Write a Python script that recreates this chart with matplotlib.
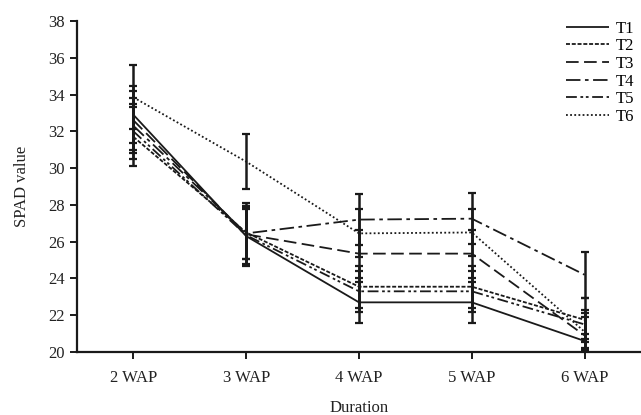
import matplotlib
matplotlib.use("Agg")
import matplotlib.pyplot as plt
from matplotlib.lines import Line2D
import numpy as np

plt.rcParams['font.family'] = ['Liberation Serif', 'DejaVu Serif']

categories = ["2 WAP", "3 WAP", "4 WAP", "5 WAP", "6 WAP"]
series_names = ["T1", "T2", "T3", "T4", "T5", "T6"]

T1 = [32.9, 26.3, 22.7, 22.7, 20.6]
T2 = [31.7, 26.5, 23.55, 23.55, 21.75]
T3 = [32.6, 26.4, 25.35, 25.35, 20.9]
T4 = [32.3, 26.45, 27.2, 27.25, 24.2]
T5 = [32.0, 26.35, 23.3, 23.3, 21.5]
T6 = [33.85, 30.35, 26.45, 26.5, 21.1]

T1_err = [1.55, 1.5, 1.1, 1.1, 0.4]
T2_err = [1.6, 1.45, 1.15, 1.15, 1.2]
T3_err = [1.6, 1.7, 1.3, 1.3, 1.0]
T4_err = [1.5, 1.4, 1.4, 1.4, 1.25]
T5_err = [1.5, 1.6, 1.1, 1.1, 0.8]
T6_err = [1.75, 1.5, 1.3, 1.3, 1.0]

values = [T1, T2, T3, T4, T5, T6]
errors = [T1_err, T2_err, T3_err, T4_err, T5_err, T6_err]
dash_styles = [
    (0, ()),
    (0, (2.2, 1.0)),
    (0, (7, 3)),
    (0, (8, 2.5, 2, 2.5)),
    (0, (6, 2, 1.5, 1.5, 1.5, 2)),
    (0, (1, 1.3)),
]

fig = plt.figure(figsize=(6.41, 4.15), dpi=100)
ax = fig.add_axes([77/641, 1-352/415, 1-77/641, (352-21)/415])

x = np.arange(len(categories))
col = '#1a1a1a'
for name, v, e, ls in zip(series_names, values, errors, dash_styles):
    ax.errorbar(x, v, yerr=e, color=col, linestyle=ls, linewidth=1.3,
                elinewidth=1.8, capsize=3.0, capthick=1.6, label=name)

ax.set_xlim(-0.5, 4.5)
ax.set_ylim(20, 38)
ax.set_yticks(np.arange(20, 39, 2))
ax.set_xticks(x)
ax.set_xticklabels(categories)
for s in ['top', 'right']:
    ax.spines[s].set_visible(False)
for s in ['left', 'bottom']:
    ax.spines[s].set_linewidth(1.6)
    ax.spines[s].set_color(col)
ax.tick_params(axis='both', direction='out', length=5, width=1.4, colors=col,
               labelsize=12, labelcolor='#222222')
ax.tick_params(axis='x', pad=8)
ax.tick_params(axis='y', pad=4)
ax.set_xlabel("Duration", fontsize=12, labelpad=10, color='#222222')
ax.set_ylabel("SPAD value", fontsize=12, labelpad=13, color='#222222')

leg_handles = [Line2D([0], [0], color=col, linestyle=ls, linewidth=1.3) for ls in dash_styles]
fig.legend(leg_handles, series_names, loc='upper right', bbox_to_anchor=(1.0, 1 - 14/415),
           frameon=False, fontsize=12, handlelength=2.6, labelspacing=0.1,
           handletextpad=0.4, borderaxespad=0.0)

fig.savefig("out.png", dpi=100)
